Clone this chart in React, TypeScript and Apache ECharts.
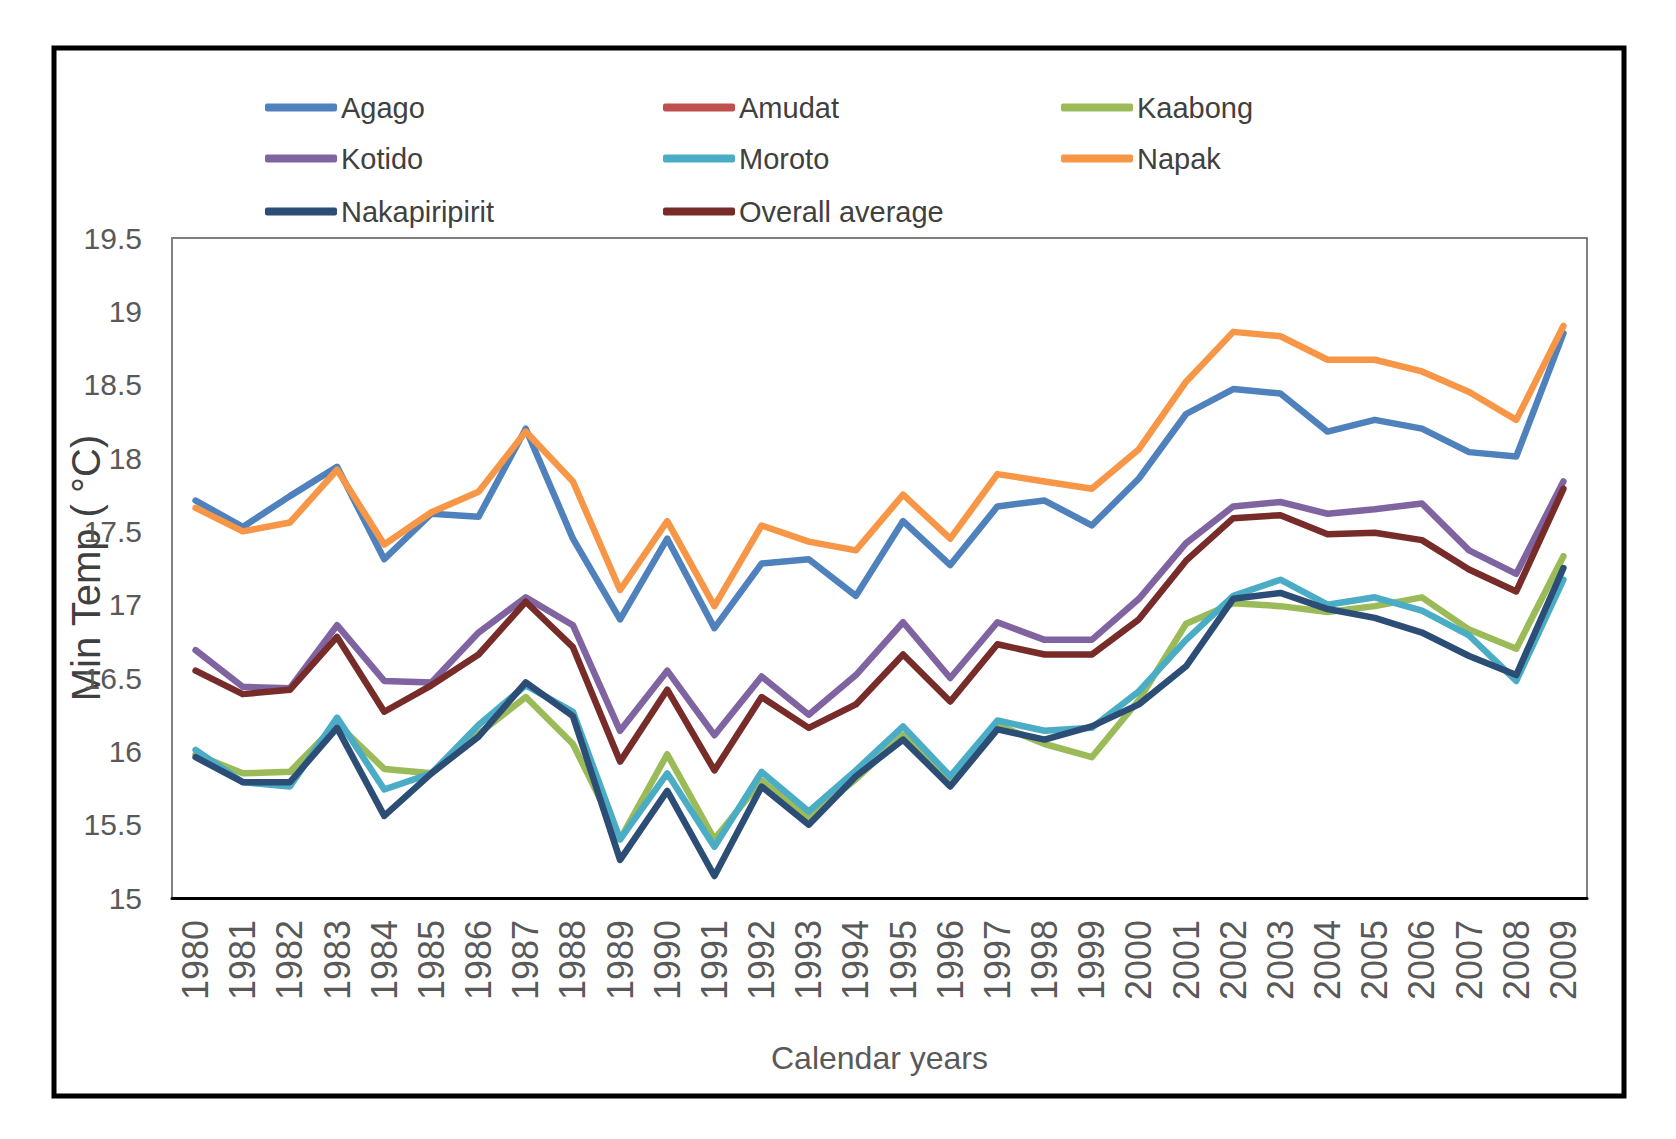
import React, { useEffect, useRef } from "react";
import * as echarts from "echarts";

const years = [
  "1980","1981","1982","1983","1984","1985","1986","1987","1988","1989",
  "1990","1991","1992","1993","1994","1995","1996","1997","1998","1999",
  "2000","2001","2002","2003","2004","2005","2006","2007","2008","2009",
];

const agago = [17.71,17.53,17.74,17.94,17.31,17.62,17.6,18.2,17.45,16.9,17.45,16.84,17.28,17.31,17.06,17.57,17.27,17.67,17.71,17.54,17.86,18.3,18.47,18.44,18.18,18.26,18.2,18.04,18.01,18.85];
const amudat: (number | null)[] = [];
const kaabong = [15.98,15.85,15.86,16.19,15.88,15.85,16.12,16.37,16.05,15.4,15.98,15.4,15.8,15.55,15.81,16.11,15.79,16.18,16.05,15.96,16.35,16.87,17.01,16.99,16.95,16.99,17.05,16.83,16.7,17.33];
const kotido = [16.69,16.44,16.43,16.86,16.48,16.47,16.81,17.05,16.86,16.14,16.55,16.11,16.51,16.25,16.52,16.88,16.5,16.88,16.76,16.76,17.04,17.42,17.67,17.7,17.62,17.65,17.69,17.37,17.21,17.84];
const moroto = [16.01,15.79,15.76,16.23,15.74,15.85,16.18,16.45,16.27,15.4,15.85,15.35,15.86,15.59,15.87,16.17,15.83,16.21,16.14,16.16,16.41,16.76,17.06,17.17,17.0,17.05,16.96,16.79,16.48,17.17];
const napak = [17.66,17.5,17.56,17.92,17.41,17.63,17.77,18.18,17.84,17.1,17.57,16.99,17.54,17.43,17.37,17.75,17.45,17.89,17.84,17.79,18.06,18.52,18.86,18.83,18.67,18.67,18.59,18.45,18.26,18.9];
const nakapiripirit = [15.96,15.79,15.79,16.16,15.56,15.85,16.1,16.47,16.24,15.26,15.73,15.15,15.76,15.5,15.83,16.08,15.76,16.15,16.08,16.17,16.32,16.58,17.04,17.08,16.97,16.91,16.81,16.65,16.52,17.25];
const overall = [16.55,16.39,16.42,16.78,16.27,16.45,16.66,17.02,16.71,15.93,16.42,15.87,16.37,16.16,16.32,16.66,16.34,16.73,16.66,16.66,16.9,17.3,17.59,17.61,17.48,17.49,17.44,17.24,17.09,17.79];

const seriesNames = ["Agago","Amudat","Kaabong","Kotido","Moroto","Napak","Nakapiripirit","Overall average"];
const seriesData = [agago, amudat, kaabong, kotido, moroto, napak, nakapiripirit, overall];
const seriesColors = ["#4F81BD","#C0504D","#9BBB59","#8064A2","#4BACC6","#F79646","#2C4D75","#772C2A"];

const yMin = 15;
const yMax = 19.5;
const yStep = 0.5;

const FONT = "'Liberation Sans', Arial, sans-serif";

export default function App() {
  const ref = useRef<HTMLDivElement>(null);

  useEffect(() => {
    if (!ref.current) return;
    const chart = echarts.init(ref.current, null, { renderer: "svg" });

    const legendCols = [260, 658, 1056];
    const legendRows = [88, 139, 192];
    const legends = seriesNames.map((name, i) => ({
      data: [name],
      left: legendCols[i % 3],
      top: legendRows[Math.floor(i / 3)],
      icon: "roundRect",
      itemWidth: 72,
      itemHeight: 8,
      itemGap: 0,
      selectedMode: false,
      textStyle: { fontSize: 29, color: "#404040", fontFamily: FONT, padding: [0, 0, 0, -1] },
    }));

    chart.setOption({
      animation: false,
      backgroundColor: "#ffffff",
      textStyle: { fontFamily: FONT },
      legend: legends,
      grid: {
        left: 172,
        top: 238,
        right: 89,
        bottom: 241,
        show: true,
        borderColor: "#555555",
        borderWidth: 1.5,
        backgroundColor: "transparent",
      },
      xAxis: {
        type: "category",
        data: years,
        boundaryGap: true,
        axisLine: { show: true, lineStyle: { color: "#000000", width: 3 } },
        axisTick: { show: false },
        axisLabel: {
          rotate: 90,
          interval: 0,
          fontSize: 36,
          color: "#595959",
          margin: 22,
          fontFamily: FONT,
        },
        name: "Calendar years",
        nameLocation: "middle",
        nameGap: 144,
        nameMoveOverlap: false,
        nameTextStyle: { fontSize: 32, color: "#595959", fontFamily: FONT },
        splitLine: { show: false },
      },
      yAxis: {
        type: "value",
        min: yMin,
        max: yMax,
        interval: yStep,
        axisLine: { show: true, lineStyle: { color: "#808080", width: 2 } },
        axisTick: { show: false },
        splitLine: { show: false },
        axisLabel: {
          fontSize: 30,
          color: "#595959",
          margin: 30,
          fontFamily: FONT,
        },
        name: "Min Temp ( °C)",
        nameLocation: "middle",
        nameRotate: 90,
        nameGap: 66,
        nameMoveOverlap: false,
        nameTextStyle: { fontSize: 40, color: "#404040", fontFamily: FONT },
      },
      graphic: [
        {
          type: "rect",
          shape: { x: 54, y: 48, width: 1570, height: 1048 },
          style: { fill: "none", stroke: "#000000", lineWidth: 5 },
          silent: true,
        },
      ],
      series: seriesNames.map((name, i) => ({
        name,
        type: "line",
        data: seriesData[i],
        symbol: "none",
        showSymbol: false,
        color: seriesColors[i],
        lineStyle: { width: 6.5, color: seriesColors[i], join: "round", cap: "round" },
        z: 2 + i,
      })),
    });

    return () => chart.dispose();
  }, []);

  return (
    <div
      ref={ref}
      style={{ position: "absolute", left: 0, top: 0, width: 1676, height: 1139 }}
    />
  );
}
